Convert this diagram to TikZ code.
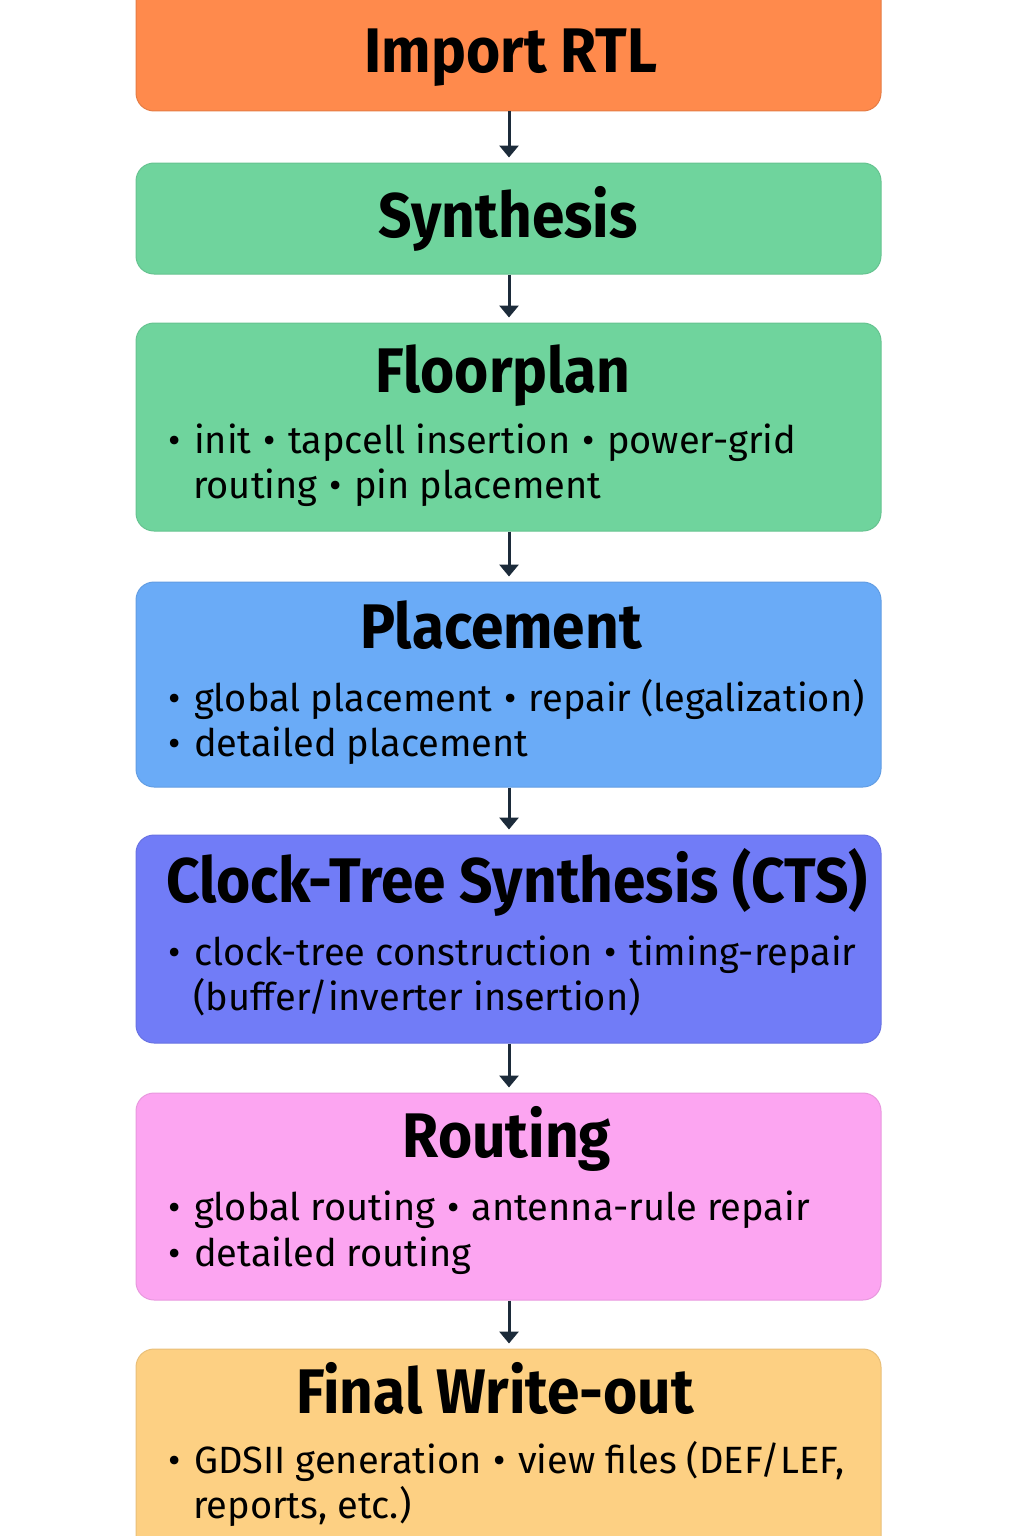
\documentclass[tikz,border=0pt]{standalone}
\usepackage{fontspec}
\usetikzlibrary{arrows.meta}
\newfontfamily\bodyfont{Fira Sans}
\newfontfamily\headfont{Fira Sans}[FakeStretch=0.93]
\newcommand\leadbul{•\hspace{0.36em}}
\newcommand\midbul{\hspace{0.32em}•\hspace{0.32em}}
\definecolor{cOrange}{HTML}{FF8A4C}
\definecolor{cGreen}{HTML}{6FD49D}
\definecolor{cBlue}{HTML}{6AABF7}
\definecolor{cPurple}{HTML}{717CF7}
\definecolor{cPink}{HTML}{FCA5F1}
\definecolor{cYellow}{HTML}{FDD083}
\definecolor{cArrow}{HTML}{1C2B3A}
\tikzset{
  stagebox/.style={rounded corners=18pt, minimum width=745pt, inner sep=0pt, line width=1pt},
  headtext/.style={anchor=base, inner sep=0pt, font=\headfont\bfseries\fontsize{63}{70}\selectfont},
  bodytext/.style={anchor=base west, inner sep=0pt, font=\bodyfont\fontsize{38}{45}\selectfont},
  flowarrow/.style={draw=cArrow, line width=3pt, -{Triangle[width=19pt,length=12pt]}, shorten >=5pt}
}
\begin{document}
\begin{tikzpicture}[x=1pt,y=-1pt]
\useasboundingbox (0,0) rectangle (1024,1536);
% boxes
\node[stagebox, fill=cOrange, draw=cOrange!90!black, minimum height=131pt] (b1) at (508.5,45.5) {};
\node[stagebox, fill=cGreen, draw=cGreen!92!black, minimum height=111pt] (b2) at (508.5,218.5) {};
\node[stagebox, fill=cGreen, draw=cGreen!92!black, minimum height=208pt] (b3) at (508.5,427) {};
\node[stagebox, fill=cBlue, draw=cBlue!92!black, minimum height=205pt] (b4) at (508.5,684.5) {};
\node[stagebox, fill=cPurple, draw=cPurple!92!black, minimum height=208pt] (b5) at (508.5,939) {};
\node[stagebox, fill=cPink, draw=cPink!92!black, minimum height=207pt] (b6) at (508.5,1196.5) {};
\node[stagebox, fill=cYellow, draw=cYellow!92!black, minimum height=215pt] (b7) at (508.5,1456.5) {};
% arrows
\draw[flowarrow] (b1.south -| 509,0) -- (b2.north -| 509,0);
\draw[flowarrow] (b2.south -| 509,0) -- (b3.north -| 509,0);
\draw[flowarrow] (b3.south -| 509,0) -- (b4.north -| 509,0);
\draw[flowarrow] (b4.south -| 509,0) -- (b5.north -| 509,0);
\draw[flowarrow] (b5.south -| 509,0) -- (b6.north -| 509,0);
\draw[flowarrow] (b6.south -| 509,0) -- (b7.north -| 509,0);
% titles
\node[headtext] (t1) at (511,73) {Import RTL};
\node[headtext] (t2) at (508,237) {Synthesis};
\node[headtext] (t3) at (503,392) {Floorplan};
\node[headtext] (t4) at (501,648) {Placement};
\node[headtext] (t5) at (517,902) {Clock-Tree Synthesis (CTS)};
\node[headtext] (t6) at (507,1157) {Routing};
\node[headtext] (t7) at (495,1413) {Final Write-out};
% bullet lines
\node[bodytext] (l3a) at (168,453) {\leadbul init\midbul tapcell insertion\midbul power-grid};
\node[bodytext] (l3b) at (193,498) {routing\midbul pin placement};
\node[bodytext] (l4a) at (168,711) {\leadbul global placement\midbul repair (legalization)};
\node[bodytext] (l4b) at (168,756) {\leadbul detailed placement};
\node[bodytext] (l5a) at (168,965) {\leadbul clock-tree construction\midbul timing-repair};
\node[bodytext] (l5b) at (193,1010) {(buffer/inverter insertion)};
\node[bodytext] (l6a) at (168,1220) {\leadbul global routing\midbul antenna-rule repair};
\node[bodytext] (l6b) at (168,1266) {\leadbul detailed routing};
\node[bodytext] (l7a) at (168,1473) {\leadbul GDSII generation\midbul view files (DEF/LEF,};
\node[bodytext] (l7b) at (193,1518) {reports, etc.)};
\end{tikzpicture}
\end{document}
